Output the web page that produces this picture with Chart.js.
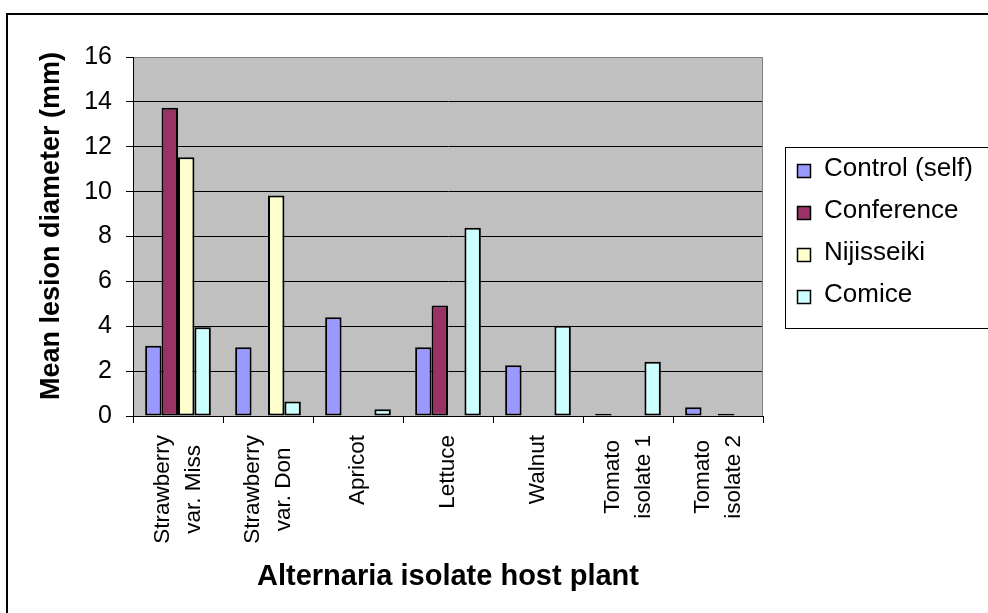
<!DOCTYPE html>
<html>
<head>
<meta charset="utf-8">
<script src="https://cdn.jsdelivr.net/npm/chart.js@4.4.1/dist/chart.umd.min.js"></script>
<style>
  html, body { margin: 0; padding: 0; background: #fff; overflow: hidden; }
  #wrap { width: 988px; height: 613px; position: relative; }
</style>
</head>
<body>
<div id="wrap"><canvas id="c" width="988" height="613"></canvas></div>
<script>
// Host plant of each Alternaria isolate (one label line per entry)
const categories = [
  ["Strawberry", "var. Miss"],
  ["Strawberry", "var. Don"],
  ["Apricot"],
  ["Lettuce"],
  ["Walnut"],
  ["Tomato", "isolate 1"],
  ["Tomato", "isolate 2"]
];

// Pear cultivars inoculated
const seriesNames = ["Control (self)", "Conference", "Nijisseiki", "Comice"];

// Mean lesion diameter (mm); null = no lesion
const controlSelf = [3.13, 3.06, 4.40, 3.06, 2.26, 0.1, 0.39];
const conference  = [13.74, null, null, 4.92, null, null, null];
const nijisseiki  = [11.53, 9.83, null, null, null, null, 0.1];
const comice      = [3.95, 0.65, 0.30, 8.39, 4.02, 2.42, null];

const yTickValues = [0, 2, 4, 6, 8, 10, 12, 14, 16];
const yTitle = "Mean lesion diameter (mm)";
const xTitle = "Alternaria isolate host plant";

const FONT = "'Liberation Sans', Arial, sans-serif";
const seriesColors = ["#9999FF", "#993366", "#FFFFCC", "#CCFFFF"];

// Plot background, outer frame, axis title, rotated category labels and boxed legend
const decorations = {
  id: "decorations",
  beforeDraw(chart) {
    const { ctx, chartArea: a } = chart;
    ctx.save();
    ctx.fillStyle = "#fff";
    ctx.fillRect(0, 0, chart.width, chart.height);
    ctx.fillStyle = "#C0C0C0";
    ctx.fillRect(a.left, a.top, a.right - a.left, a.bottom - a.top);
    ctx.restore();
  },
  beforeDatasetsDraw(chart) {
    const { ctx, chartArea: a } = chart;
    ctx.save();
    ctx.strokeStyle = "#808080";
    ctx.lineWidth = 1;
    ctx.beginPath();
    ctx.moveTo(Math.round(a.right) - 0.5, a.top);
    ctx.lineTo(Math.round(a.right) - 0.5, a.bottom);
    ctx.stroke();
    ctx.restore();
  },
  afterDraw(chart) {
    const { ctx } = chart;
    const xs = chart.scales.x;

    // outer frame (top and left edges)
    ctx.save();
    ctx.strokeStyle = "#000";
    ctx.lineWidth = 2;
    ctx.beginPath();
    ctx.moveTo(7, chart.height + 2);
    ctx.lineTo(7, 14);
    ctx.lineTo(chart.width + 2, 14);
    ctx.stroke();
    ctx.restore();

    // value axis title
    ctx.save();
    ctx.fillStyle = "#000";
    ctx.font = "bold 27px " + FONT;
    ctx.translate(52, 226);
    ctx.rotate(-Math.PI / 2);
    ctx.textAlign = "center";
    ctx.textBaseline = "middle";
    ctx.fillText(yTitle, 0, 0);
    ctx.restore();

    // category labels, rotated, each block hanging from under the axis
    ctx.save();
    ctx.fillStyle = "#000";
    ctx.font = "22.5px " + FONT;
    const lineGap = 31;
    const labelTop = 435;
    categories.forEach((lines, i) => {
      const x = xs.getPixelForValue(i);
      const maxW = Math.max(...lines.map(t => ctx.measureText(t).width));
      const yc = labelTop + maxW / 2;
      lines.forEach((t, j) => {
        const cx = x + (j - (lines.length - 1) / 2) * lineGap;
        ctx.save();
        ctx.translate(cx, yc);
        ctx.rotate(-Math.PI / 2);
        ctx.textAlign = "center";
        ctx.textBaseline = "middle";
        ctx.fillText(t, 0, 0);
        ctx.restore();
      });
    });
    ctx.restore();

    // legend box
    ctx.save();
    ctx.strokeStyle = "#000";
    ctx.lineWidth = 1;
    ctx.strokeRect(785.5, 147.5, 300, 181);
    ctx.font = "26px " + FONT;
    ctx.textBaseline = "alphabetic";
    ctx.textAlign = "left";
    chart.data.datasets.forEach((ds, i) => {
      const y = 164 + i * 42;
      ctx.fillStyle = ds.backgroundColor;
      ctx.fillRect(797, y, 14, 14);
      ctx.strokeStyle = "#000";
      ctx.lineWidth = 1.5;
      ctx.strokeRect(797.5, y + 0.5, 13, 13);
      ctx.fillStyle = "#000";
      ctx.fillText(ds.label, 824, y + 12);
    });
    ctx.restore();
  }
};

const seriesValues = [controlSelf, conference, nijisseiki, comice];

new Chart(document.getElementById("c"), {
  type: "bar",
  data: {
    labels: categories.map(c => c.join(" ")),
    datasets: seriesNames.map((name, k) => ({
      label: name,
      data: seriesValues[k],
      backgroundColor: seriesColors[k],
      borderColor: "#000",
      borderWidth: 2,
      borderSkipped: false,
      categoryPercentage: 0.73,
      barPercentage: 1
    }))
  },
  options: {
    responsive: false,
    animation: false,
    devicePixelRatio: 1,
    layout: { padding: { left: 0, top: 57, right: 225, bottom: 0 } },
    plugins: { legend: { display: false }, tooltip: { enabled: false } },
    scales: {
      x: {
        grid: { display: true, drawOnChartArea: false, drawTicks: true, tickLength: 7, color: "#000", offset: true },
        border: { display: true, color: "#000", width: 1 },
        ticks: { display: false },
        title: {
          display: true,
          text: xTitle,
          color: "#000",
          font: { family: FONT, size: 29, weight: "bold" },
          padding: { top: 0, bottom: 19 }
        },
        afterFit(s) { s.height = 197; }
      },
      y: {
        min: 0,
        max: 16,
        afterBuildTicks(s) { s.ticks = yTickValues.map(v => ({ value: v })); },
        ticks: { color: "#000", font: { family: FONT, size: 25 }, padding: 14 },
        grid: {
          color: c => (c.tick && c.tick.value === 16 ? "#808080" : "#000"),
          lineWidth: 1,
          tickLength: 7,
          tickColor: "#000"
        },
        border: { display: true, color: "#000", width: 1 },
        title: { display: false },
        afterFit(s) { s.width = 133; }
      }
    }
  },
  plugins: [decorations]
});
</script>
</body>
</html>
